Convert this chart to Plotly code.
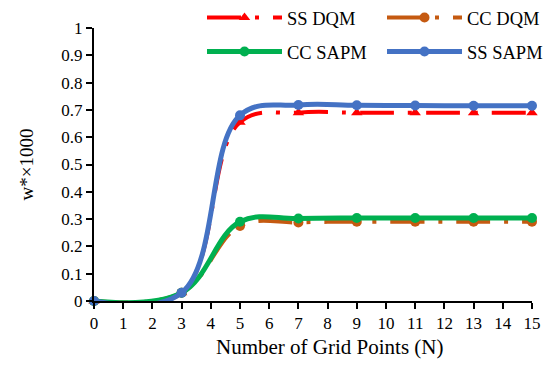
import plotly.graph_objects as go

# Grid points N and dimensionless deflection w* x 1000
n_points = [0, 3, 5, 7, 9, 11, 13, 15]
ss_dqm = [0.0, 0.03, 0.655, 0.69, 0.69, 0.69, 0.69, 0.69]
cc_dqm = [0.0, 0.03, 0.275, 0.288, 0.29, 0.29, 0.29, 0.29]
cc_sapm = [0.0, 0.03, 0.29, 0.302, 0.304, 0.304, 0.304, 0.304]
ss_sapm = [0.0, 0.03, 0.68, 0.718, 0.717, 0.716, 0.715, 0.715]

x_ticks = list(range(0, 16))
y_ticks = [0, 0.1, 0.2, 0.3, 0.4, 0.5, 0.6, 0.7, 0.8, 0.9, 1]

X_TITLE = "Number of Grid Points (N)"
Y_TITLE = "w*×1000"

FONT = "Liberation Serif, Times New Roman, serif"
DASHDOT = "34px,14px,4px,14px"
SMOOTH = 1.1
W, H = 547, 371

series = [
    # name, values, colour, dash, width, symbol, legend id
    ("SS DQM", ss_dqm, "#FF0000", DASHDOT, 4, "triangle-up", "legend"),
    ("CC DQM", cc_dqm, "#C55A11", DASHDOT, 4, "circle", "legend2"),
    ("CC SAPM", cc_sapm, "#00B050", "solid", 5, "circle", "legend3"),
    ("SS SAPM", ss_sapm, "#4472C4", "solid", 5, "circle", "legend4"),
]

fig = go.Figure()
for name, vals, color, dash, width, symbol, leg in series:
    fig.add_trace(go.Scatter(
        x=n_points, y=vals, name=name, mode="lines+markers",
        line=dict(color=color, width=width, dash=dash, shape="spline", smoothing=SMOOTH),
        marker=dict(symbol=symbol, size=10, color=color),
        cliponaxis=False, legend=leg, showlegend=True,
    ))


def legend_box(x_px, y_px):
    return dict(
        xref="container", yref="container",
        x=x_px / W, y=1 - y_px / H,
        xanchor="left", yanchor="middle",
        font=dict(family=FONT, size=18.5, color="#000000"),
        bgcolor="rgba(0,0,0,0)", itemwidth=75, visible=True,
    )


axis_common = dict(
    showgrid=False, zeroline=False, showline=True, linecolor="#000000", linewidth=2,
    ticks="outside", ticklen=6, tickwidth=2, tickcolor="#000000",
    tickfont=dict(family=FONT, size=17),
)

fig.update_layout(
    width=W, height=H,
    margin=dict(l=94, r=15, t=28, b=70, autoexpand=False),
    paper_bgcolor="white", plot_bgcolor="white",
    font=dict(family=FONT, size=17, color="#000000"),
    showlegend=True,
    legend=legend_box(202, 18),
    legend2=legend_box(382, 18),
    legend3=legend_box(202, 52),
    legend4=legend_box(382, 52),
    xaxis=dict(range=[0, 15], tickvals=x_ticks, ticktext=[str(v) for v in x_ticks], **axis_common),
    yaxis=dict(range=[0, 1], tickvals=y_ticks, ticktext=[f"{v:g}" for v in y_ticks], **axis_common),
    annotations=[
        dict(text=X_TITLE, xref="paper", yref="paper",
             x=(329 - 94) / 438, y=-(347 - 301) / 273,
             xanchor="center", yanchor="middle", showarrow=False,
             font=dict(family=FONT, size=21, color="#000000")),
        dict(text=Y_TITLE, xref="paper", yref="paper",
             x=-(94 - 26) / 438, y=0.5, textangle=-90,
             xanchor="center", yanchor="middle", showarrow=False,
             font=dict(family=FONT, size=19, color="#000000")),
    ],
)

fig.write_html("out.html")
